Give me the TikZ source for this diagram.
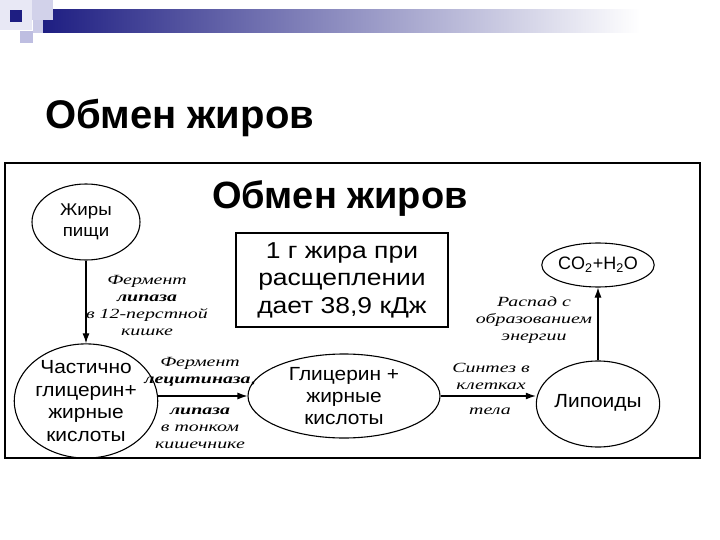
\documentclass[tikz,border=0pt]{standalone}
\usepackage{fontspec}
\setmainfont{Liberation Serif}
\setsansfont{Liberation Sans}
\newfontfamily\wsans[FakeStretch=1.1]{Liberation Sans}
\newfontfamily\bsans[FakeStretch=1.15]{Liberation Sans}
\newfontfamily\lblfont[FakeStretch=1.42]{Liberation Serif}
\usetikzlibrary{shapes.geometric,arrows.meta}
\definecolor{hdrblue}{RGB}{30,30,130}
\definecolor{hdrlight}{RGB}{190,190,225}
\tikzset{
  oval/.style={draw,ellipse,line width=1.1pt,inner sep=0pt,align=center},
  flow/.style={draw,line width=1.1pt,-{Latex[length=10pt,width=7pt]}},
  lbl/.style={align=center,font=\lblfont\itshape\fontsize{14}{17}\selectfont,inner sep=0pt}
}
\begin{document}
\begin{tikzpicture}[x=1pt,y=-1pt]
\useasboundingbox (0,0) rectangle (720,540);
% header decoration
\shade[left color=hdrblue,right color=white] (43,10) rectangle (640,33);
\fill[hdrlight!35] (0,0) rectangle (32,30);
\fill[hdrlight!70] (32,0) rectangle (53,20);
\fill[hdrlight!80] (33,20) rectangle (43,33);
\fill[hdrlight] (20,31) rectangle (33,43);
\fill[hdrblue] (10,10) rectangle (22,22);
% slide title
\node[anchor=base west,font=\sffamily\bfseries\fontsize{40}{44}\selectfont,inner sep=0pt] (title) at (45,129) {Обмен жиров};
% frame
\draw[line width=1.4pt] (5,163) rectangle (700,458);
\node[font=\sffamily\bfseries\fontsize{38}{42}\selectfont,inner sep=0pt] (title2) at (340,199) {Обмен жиров};
\node[draw,line width=1.1pt,minimum width=212pt,minimum height=94pt,align=center,font=\bsans\fontsize{23}{27.5}\selectfont] (box) at (342,280) {1 г жира при\\расщеплении\\дает 38,9 кДж};
% nodes
\node[oval,minimum width=108pt,minimum height=76pt,font=\wsans\fontsize{17}{21}\selectfont] (food) at (86,222) {Жиры\\пищи};
\node[oval,minimum width=130pt,minimum height=94pt,font=\wsans\fontsize{19}{22.5}\selectfont] (part) at (86,401) {Частично\\глицерин+\\жирные\\кислоты};
\node[oval,minimum width=192pt,minimum height=84pt,font=\wsans\fontsize{19}{22}\selectfont] (glyc) at (344,396) {Глицерин +\\жирные\\кислоты};
\node[oval,minimum width=110pt,minimum height=86pt,font=\wsans\fontsize{19}{22}\selectfont] (lip) at (598,404) {\raisebox{6pt}{Липоиды}};
\node[oval,minimum width=110pt,minimum height=44pt,font=\sffamily\fontsize{18}{22}\selectfont] (co2) at (598,265) {CO\textsubscript{2}+H\textsubscript{2}O};
% connectors
\draw[flow] (food.south) -- (part.north);
\draw[flow] (part.east |- glyc.west) -- (glyc.west);
\draw[flow] (glyc.east) -- (glyc.east -| lip.west);
\draw[flow] (lip.north) -- (co2.south);
% labels
\node[lbl] (l1) at (147,306) {Фермент\\\textbf{липаза}\\в 12-перстной\\кишке};
\node[lbl] (l2a) at (200,372) {Фермент\\\textbf{лецитиназа},};
\node[lbl] (l2b) at (200,428) {\textbf{липаза}\\в тонком\\кишечнике};
\node[lbl] (l3a) at (491,376) {Синтез в\\клетках};
\node[lbl] (l3b) at (490,411) {тела};
\node[lbl] (l4) at (534,320) {Распад с\\образованием\\энергии};
\end{tikzpicture}
\end{document}
